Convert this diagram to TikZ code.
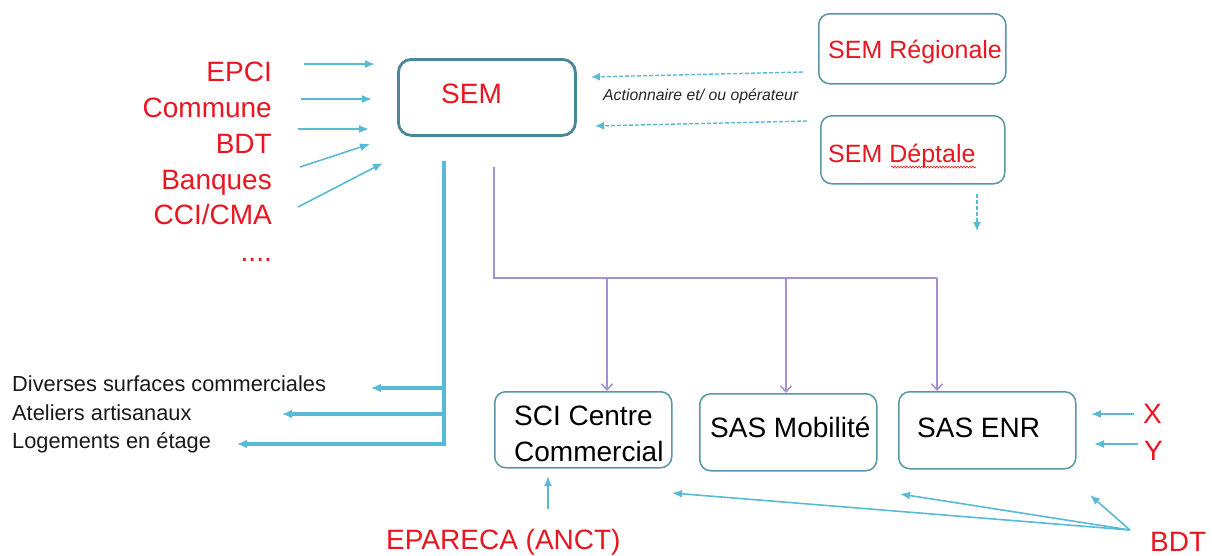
\documentclass[tikz,border=0pt]{standalone}
\usepackage{fontspec}
\setmainfont{Liberation Sans}
\usetikzlibrary{arrows.meta,decorations.pathmorphing}
\definecolor{redtxt}{RGB}{232,22,32}
\definecolor{arrblue}{RGB}{88,186,212}
\definecolor{boxteal}{RGB}{90,150,165}
\definecolor{semteal}{RGB}{72,136,152}
\definecolor{purp}{RGB}{165,145,205}
\begin{document}
\begin{tikzpicture}[x=1pt,y=-1pt,
  box/.style={draw=boxteal, line width=1.5pt, rounded corners=11pt, inner sep=0pt, anchor=north west},
  redt/.style={text=redtxt, inner sep=0pt, font=\fontsize{28}{34}\selectfont},
  redm/.style={text=redtxt, inner sep=0pt, font=\fontsize{25}{30}\selectfont},
  blkt/.style={text=black, inner sep=0pt, font=\fontsize{28}{34}\selectfont},
  blks/.style={text=black!90, inner sep=0pt, font=\fontsize{21.8}{26}\selectfont},
  barr/.style={draw=arrblue, line width=1.6pt, -{Latex[length=10pt,width=8pt]}},
  bthick/.style={draw=arrblue, line width=3.4pt},
  bthickarr/.style={draw=arrblue, line width=3.4pt, -{Latex[length=10pt,width=9pt]}},
  bdash/.style={draw=arrblue, line width=1.4pt, dash pattern=on 4pt off 2pt, -{Latex[length=9pt,width=8pt]}},
  parr/.style={draw=purp, line width=1.6pt, -{Straight Barb[length=6pt,width=11pt]}},
  pline/.style={draw=purp, line width=1.6pt}
]
\useasboundingbox (0,0) rectangle (1212,555);

% ---------- boxes ----------
\node[box, draw=semteal, line width=2.8pt, rounded corners=13pt, minimum width=177pt, minimum height=76pt] (sem) at (397,58) {};
\node[box, minimum width=187pt, minimum height=70pt] (semreg) at (818,13) {};
\node[box, minimum width=184pt, minimum height=68pt] (semdep) at (820,115) {};
\node[box, minimum width=177pt, minimum height=76pt] (sci) at (494,391) {};
\node[box, minimum width=177pt, minimum height=77pt] (mob) at (699,393) {};
\node[box, minimum width=177pt, minimum height=77pt] (enr) at (898,391) {};

% ---------- texts in boxes ----------
\node[redt, anchor=base west] (semtxt) at (441,103) {SEM};
\node[redm, anchor=base west] (semregtxt) at (828,58) {SEM Régionale};
\node[redm, anchor=base west] (semdeptxt) at (828,162) {SEM Déptale};
\node[blkt, anchor=base west] (scitxt1) at (514,425) {SCI Centre};
\node[blkt, anchor=base west] (scitxt2) at (514,461) {Commercial};
\node[blkt, anchor=base west] (mobtxt) at (710,437) {SAS Mobilité};
\node[blkt, anchor=base west] (enrtxt) at (917,437) {SAS ENR};
\draw[redtxt, line width=0.6pt, decorate, decoration={snake, amplitude=0.9pt, segment length=3pt}]
  (891,167) -- (976,167);

% ---------- left red list ----------
\node[redt, anchor=base east] (epci) at (272,81) {EPCI};
\node[redt, anchor=base east] (commune) at (272,117) {Commune};
\node[redt, anchor=base east] (bdt1) at (272,153) {BDT};
\node[redt, anchor=base east] (banques) at (272,189) {Banques};
\node[redt, anchor=base east] (cci) at (272,224) {CCI/CMA};
\node[redt, anchor=base east] (dots) at (272,261) {....};

\coordinate (a1s) at (304,64);  \coordinate (a1e) at (375,64);
\coordinate (a2s) at (301,99);  \coordinate (a2e) at (372,99);
\coordinate (a3s) at (298,129); \coordinate (a3e) at (369,129);
\coordinate (a4s) at (300,167); \coordinate (a4e) at (370,144);
\coordinate (a5s) at (298,207); \coordinate (a5e) at (383,163);
\draw[barr] (a1s) -- (a1e);
\draw[barr] (a2s) -- (a2e);
\draw[barr] (a3s) -- (a3e);
\draw[barr] (a4s) -- (a4e);
\draw[barr] (a5s) -- (a5e);

% ---------- dashed arrows from SEM regionale / deptale ----------
\coordinate (d1s) at (803,72);  \coordinate (d1e) at (591,77);
\coordinate (d2s) at (807,121); \coordinate (d2e) at (595,126);
\coordinate (d3s) at (977,194); \coordinate (d3e) at (977,231);
\draw[bdash] (d1s) -- (d1e);
\draw[bdash] (d2s) -- (d2e);
\draw[bdash] (d3s) -- (d3e);
\node[inner sep=0pt, anchor=base west, font=\fontsize{15.8}{19}\selectfont\itshape, text=black!85] (action) at (603,100) {Actionnaire et/ ou opérateur};

% ---------- thick blue tree ----------
\coordinate (t0) at (444,163);
\coordinate (t1) at (444,388);
\coordinate (t2) at (444,414);
\coordinate (t3) at (444,444);
\coordinate (t1e) at (371,388);
\coordinate (t2e) at (282,414);
\coordinate (t3e) at (237,444);
\draw[bthick, line cap=rect] (t0) -- (t3);
\draw[bthickarr] (t1) -- (t1e);
\draw[bthickarr] (t2) -- (t2e);
\draw[bthickarr] (t3) -- (t3e);
\node[blks, anchor=base west] (div) at (12,391) {Diverses surfaces commerciales};
\node[blks, anchor=base west] (atel) at (12,420) {Ateliers artisanaux};
\node[blks, anchor=base west] (loge) at (12,448) {Logements en étage};

% ---------- purple tree ----------
\coordinate (p0) at (494,167);
\coordinate (p1) at (494,278);
\coordinate (p2) at (607,278);
\coordinate (p3) at (786,278);
\coordinate (p4) at (937,278);
\draw[pline] (p0) -- (p1) -- (p4);
\draw[parr] (p2) -- (sci.north -| p2);
\draw[parr] (p3) -- (mob.north -| p3);
\draw[parr] (p4) -- (enr.north -| p4);

% ---------- X / Y ----------
\node[redt, anchor=base west] (xt) at (1143,423) {X};
\node[redt, anchor=base west] (yt) at (1144,460) {Y};
\coordinate (xs) at (1134,414); \coordinate (xe) at (1091,414);
\coordinate (ys) at (1138,444); \coordinate (ye) at (1094,444);
\draw[barr] (xs) -- (xe);
\draw[barr] (ys) -- (ye);

% ---------- bottom ----------
\node[redt, anchor=base west] (epareca) at (386,549) {EPARECA (ANCT)};
\coordinate (es) at (548,509); \coordinate (ee) at (548,476);
\draw[barr] (es) -- (ee);

\node[redt, anchor=base west] (bdt2) at (1150,551) {BDT};
\coordinate (bs) at (1130,530);
\coordinate (b1e) at (1090,495);
\coordinate (b2e) at (900,494);
\coordinate (b3e) at (672,493);
\draw[barr] (bs) -- (b1e);
\draw[barr] (bs) -- (b2e);
\draw[barr] (bs) -- (b3e);
\end{tikzpicture}
\end{document}
